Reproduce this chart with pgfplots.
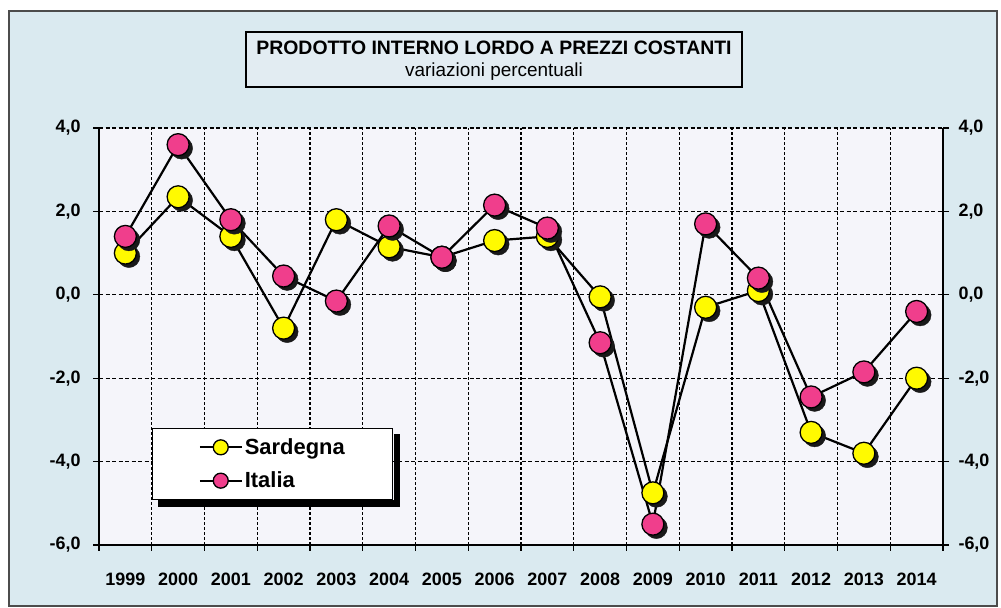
\documentclass[border=0pt]{standalone}
\usepackage{pgfplots}
\pgfplotsset{compat=1.18}
\usepackage{fontspec}
\setmainfont{Liberation Sans}
\definecolor{outerbg}{RGB}{218,234,240}
\definecolor{plotbg}{RGB}{245,245,250}
\definecolor{titlebg}{RGB}{226,236,242}
\definecolor{syellow}{RGB}{255,250,0}
\definecolor{ipink}{RGB}{240,62,140}
\begin{document}
\begin{tikzpicture}[x=1bp,y=1bp]
\fill[white] (0,0) rectangle (1001,608);
\filldraw[fill=outerbg, draw=black!70, line width=1.5bp] (9,2) rectangle (997,597);
\node[draw=black, line width=1.3bp, fill=titlebg, minimum width=496bp, minimum height=55bp, inner sep=0] at (494,548.5) {};
\node[font=\bfseries\fontsize{19.5}{19.5}\selectfont] at (494,560) {PRODOTTO INTERNO LORDO A PREZZI COSTANTI};
\node[font=\fontsize{19}{19}\selectfont] at (494,536) {variazioni percentuali};
\begin{axis}[
  at={(99bp,63bp)}, anchor=south west, scale only axis,
  width=844bp, height=417bp,
  xmin=-0.5, xmax=15.5, ymin=-6, ymax=4,
  axis x line*=bottom, axis y line*=left,
  axis line style={black, line width=1.3bp},
  axis background/.style={fill=plotbg},
  xtick={0,...,15},
  xticklabels={1999,2000,2001,2002,2003,2004,2005,2006,2007,2008,2009,2010,2011,2012,2013,2014},
  major x tick style={draw=none},
  minor xtick={-0.5,0.5,...,15.5},
  minor x tick style={black, line width=1.3bp},
  minor tick length=6bp,
  major tick length=6bp,
  tick align=outside,
  xminorgrids,
  minor x grid style={black, line width=1.1bp, dash pattern=on 3bp off 2bp},
  ytick={-6,-4,...,4},
  ymajorgrids,
  major y grid style={black, line width=1.1bp, dash pattern=on 4bp off 2.5bp},
  y tick style={black, line width=1.3bp},
  tick label style={font=\bfseries\fontsize{18}{18}\selectfont},
  /pgf/number format/.cd, fixed, fixed zerofill, precision=1, use comma, assume math mode=true,
  /pgfplots/.cd,
  xticklabel style={yshift=-18bp},
  yticklabel style={xshift=-9bp},
  legend style={name=leg, at={(0.0628,0.2806)}, anchor=north west, draw=black, line width=1.3bp, fill=white,
    font=\bfseries\fontsize{22}{22}\selectfont, inner xsep=46bp, inner ysep=8bp, row sep=12bp},
  legend cell align=left,
  legend image code/.code={\draw[#1, every mark/.append style={scale=0.68}, mark repeat=2, mark phase=2] plot coordinates {(0bp,0bp)(21bp,0bp)(42bp,0bp)};},
  clip=false,
]
% Sardegna
\addplot[forget plot, only marks, mark=*, mark size=11bp, black!90, mark options={xshift=3.5bp, yshift=-3.5bp, fill=black!90}] coordinates {
(0,1.0)(1,2.35)(2,1.4)(3,-0.8)(4,1.8)(5,1.15)(6,0.9)(7,1.3)(8,1.4)(9,-0.05)(10,-4.75)(11,-0.3)(12,0.1)(13,-3.3)(14,-3.8)(15,-2.0)};
\addplot[black, line width=2.2bp, mark=*, mark size=11bp, mark options={fill=syellow, line width=1.3bp}] coordinates {
(0,1.0)(1,2.35)(2,1.4)(3,-0.8)(4,1.8)(5,1.15)(6,0.9)(7,1.3)(8,1.4)(9,-0.05)(10,-4.75)(11,-0.3)(12,0.1)(13,-3.3)(14,-3.8)(15,-2.0)};
\addlegendentry{Sardegna}
% Italia
\addplot[forget plot, only marks, mark=*, mark size=11bp, black!90, mark options={xshift=3.5bp, yshift=-3.5bp, fill=black!90}] coordinates {
(0,1.4)(1,3.6)(2,1.8)(3,0.45)(4,-0.15)(5,1.65)(6,0.9)(7,2.15)(8,1.6)(9,-1.15)(10,-5.5)(11,1.7)(12,0.4)(13,-2.45)(14,-1.85)(15,-0.4)};
\addplot[black, line width=2.2bp, mark=*, mark size=11bp, mark options={fill=ipink, line width=1.3bp}] coordinates {
(0,1.4)(1,3.6)(2,1.8)(3,0.45)(4,-0.15)(5,1.65)(6,0.9)(7,2.15)(8,1.6)(9,-1.15)(10,-5.5)(11,1.7)(12,0.4)(13,-2.45)(14,-1.85)(15,-0.4)};
\addlegendentry{Italia}
\end{axis}
% legend shadow (outside the legend box only)
\fill[black] ([xshift=6bp,yshift=-6.6bp]leg.south west) rectangle ([xshift=6.6bp]leg.south east);
\fill[black] ([xshift=0.6bp,yshift=-6bp]leg.north east) rectangle ([xshift=6.6bp,yshift=-6.6bp]leg.south east);
\begin{axis}[
  at={(99bp,63bp)}, anchor=south west, scale only axis,
  width=844bp, height=417bp,
  xmin=-0.5, xmax=15.5, ymin=-6, ymax=4,
  axis x line=none, axis y line*=right,
  axis line style={black, line width=1.3bp},
  ytick={-6,-4,...,4},
  major tick length=6bp,
  tick align=outside,
  y tick style={black, line width=1.3bp},
  tick label style={font=\bfseries\fontsize{18}{18}\selectfont},
  /pgf/number format/.cd, fixed, fixed zerofill, precision=1, use comma, assume math mode=true,
  /pgfplots/.cd,
  yticklabel style={xshift=6bp},
]
\addplot[draw=none] coordinates {(0,0)};
\end{axis}
\end{tikzpicture}
\end{document}
